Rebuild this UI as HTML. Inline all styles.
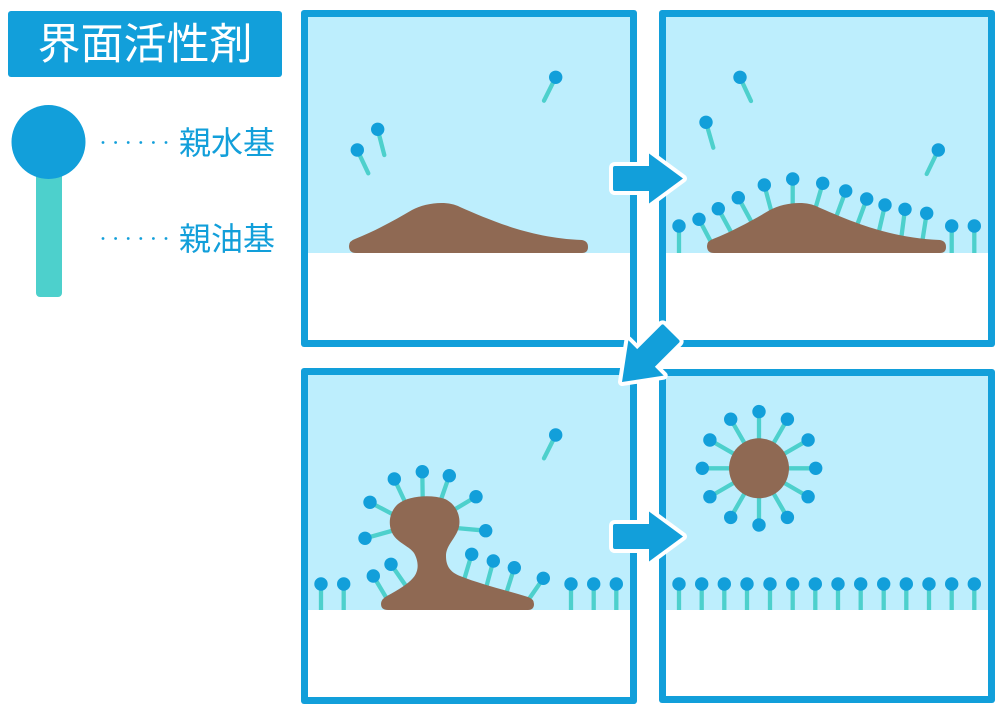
<!DOCTYPE html>
<html>
<head>
<meta charset="utf-8">
<style>
html,body{margin:0;padding:0;background:#fff;}
body{width:1000px;height:708px;overflow:hidden;}
svg{display:block;}
.t{stroke:#4dd0cc;stroke-width:4.3;stroke-linecap:round;fill:none;}
.s{stroke:#4dd0cc;stroke-width:4.3;stroke-linecap:butt;fill:none;}
.h{fill:#129fda;}
.b{fill:#8f6953;}
.arr{fill:#129fda;stroke:#fff;stroke-width:8;stroke-linejoin:round;paint-order:stroke;}
</style>
</head>
<body>
<svg width="1000" height="708" viewBox="0 0 1000 708" xmlns="http://www.w3.org/2000/svg">
  <!-- Legend -->
  <rect x="8" y="11" width="274" height="66" rx="3" fill="#129fda"/>
  <text x="145" y="59" text-anchor="middle" font-family="'Liberation Sans','Noto Sans CJK JP',sans-serif" font-size="43" fill="#fff">界面活性剤</text>
  <rect x="36" y="150" width="26" height="147" rx="4" fill="#4dd0cc"/>
  <circle cx="48.5" cy="142" r="37" fill="#129fda"/>
  <g fill="#129fda">
    <circle cx="103" cy="142.5" r="1.4"/><circle cx="115.6" cy="142.5" r="1.4"/><circle cx="128.2" cy="142.5" r="1.4"/>
    <circle cx="140.8" cy="142.5" r="1.4"/><circle cx="153.4" cy="142.5" r="1.4"/><circle cx="166" cy="142.5" r="1.4"/>
    <circle cx="103" cy="238.5" r="1.4"/><circle cx="115.6" cy="238.5" r="1.4"/><circle cx="128.2" cy="238.5" r="1.4"/>
    <circle cx="140.8" cy="238.5" r="1.4"/><circle cx="153.4" cy="238.5" r="1.4"/><circle cx="166" cy="238.5" r="1.4"/>
  </g>
  <text x="179" y="154" font-family="'Liberation Sans','Noto Sans CJK JP',sans-serif" font-size="32" fill="#129fda">親水基</text>
  <text x="179" y="250" font-family="'Liberation Sans','Noto Sans CJK JP',sans-serif" font-size="32" fill="#129fda">親油基</text>

  <!-- Panels -->
  <rect x="301" y="10" width="336" height="337" rx="3" fill="#129fda"/>
  <rect x="308" y="17" width="322" height="236" fill="#bdeefd"/>
  <rect x="308" y="253" width="322" height="87" fill="#fff"/>

  <rect x="659" y="10" width="336" height="337" rx="3" fill="#129fda"/>
  <rect x="666" y="17" width="322" height="236" fill="#bdeefd"/>
  <rect x="666" y="253" width="322" height="87" fill="#fff"/>

  <rect x="301" y="368" width="336" height="336" rx="3" fill="#129fda"/>
  <rect x="308" y="375" width="322" height="235" fill="#bdeefd"/>
  <rect x="308" y="610" width="322" height="87" fill="#fff"/>

  <rect x="659" y="369" width="336" height="334" rx="3" fill="#129fda"/>
  <rect x="666" y="376" width="322" height="234" fill="#bdeefd"/>
  <rect x="666" y="610" width="322" height="86" fill="#fff"/>

  <!-- Panel 1 -->
  <line class="t" x1="555.7" y1="77.3" x2="544" y2="100.7"/><circle class="h" cx="555.7" cy="77.3" r="6.7"/>
  <line class="t" x1="377.7" y1="129.3" x2="384.3" y2="155"/><circle class="h" cx="377.7" cy="129.3" r="6.7"/>
  <line class="t" x1="357.3" y1="150" x2="368.3" y2="173.3"/><circle class="h" cx="357.3" cy="150" r="6.7"/>
  <path class="b" d="M 356 253 Q 349 253 349 246 Q 349 241 355 239 C 375 231 395 220 412 210 C 425 203 447 200 460 207 C 490 220 530 238 582 240 Q 588 241 588 247 Q 588 253 582 253 Z"/>

  <!-- Panel 2 -->
  <line class="t" x1="740" y1="77.3" x2="751" y2="101"/><circle class="h" cx="740" cy="77.3" r="6.7"/>
  <line class="t" x1="706" y1="122.3" x2="713.3" y2="147.7"/><circle class="h" cx="706" cy="122.3" r="6.7"/>
  <line class="t" x1="938.3" y1="150" x2="926.7" y2="174"/><circle class="h" cx="938.3" cy="150" r="6.7"/>
  <g>
    <line class="s" x1="679" y1="226" x2="679" y2="253"/>
    <line class="t" x1="699" y1="219.3" x2="711" y2="242"/>
    <line class="t" x1="718.3" y1="208.7" x2="731" y2="232"/>
    <line class="t" x1="738.3" y1="197.7" x2="751" y2="221"/>
    <line class="t" x1="764.3" y1="185" x2="771" y2="210"/>
    <line class="t" x1="792.7" y1="179" x2="792.7" y2="205"/>
    <line class="t" x1="822.7" y1="183.3" x2="815.5" y2="208"/>
    <line class="t" x1="845.7" y1="191" x2="836.5" y2="216"/>
    <line class="t" x1="866.7" y1="199" x2="857.5" y2="224"/>
    <line class="t" x1="885" y1="205" x2="879" y2="231"/>
    <line class="t" x1="905" y1="209.3" x2="901.5" y2="236"/>
    <line class="t" x1="926.7" y1="213.3" x2="922.5" y2="240"/>
    <line class="s" x1="951.7" y1="226" x2="951.7" y2="253"/>
    <line class="s" x1="974.3" y1="226" x2="974.3" y2="253"/>
  </g>
  <path class="b" d="M 714 253 Q 707 253 707 246 Q 707 241 713 239 C 733 231 753 220 770 210 C 783 203 805 200 818 207 C 848 220 888 238 940 240 Q 946 241 946 247 Q 946 253 940 253 Z"/>
  <g>
    <circle class="h" cx="679" cy="226" r="6.7"/>
    <circle class="h" cx="699" cy="219.3" r="6.7"/>
    <circle class="h" cx="718.3" cy="208.7" r="6.7"/>
    <circle class="h" cx="738.3" cy="197.7" r="6.7"/>
    <circle class="h" cx="764.3" cy="185" r="6.7"/>
    <circle class="h" cx="792.7" cy="179" r="6.7"/>
    <circle class="h" cx="822.7" cy="183.3" r="6.7"/>
    <circle class="h" cx="845.7" cy="191" r="6.7"/>
    <circle class="h" cx="866.7" cy="199" r="6.7"/>
    <circle class="h" cx="885" cy="205" r="6.7"/>
    <circle class="h" cx="905" cy="209.3" r="6.7"/>
    <circle class="h" cx="926.7" cy="213.3" r="6.7"/>
    <circle class="h" cx="951.7" cy="226" r="6.7"/>
    <circle class="h" cx="974.3" cy="226" r="6.7"/>
  </g>

  <!-- Panel 3 -->
  <line class="t" x1="555.7" y1="435" x2="544" y2="458.3"/><circle class="h" cx="555.7" cy="435" r="6.7"/>
  <g>
    <line class="t" x1="365" y1="538.3" x2="395" y2="530"/>
    <line class="t" x1="370" y1="502.3" x2="396" y2="516"/>
    <line class="t" x1="394.3" y1="479" x2="406" y2="504"/>
    <line class="t" x1="422.3" y1="471.7" x2="422.7" y2="499"/>
    <line class="t" x1="449.3" y1="475.7" x2="440.5" y2="501"/>
    <line class="t" x1="476" y1="496.7" x2="452" y2="511"/>
    <line class="t" x1="485.7" y1="530.7" x2="456" y2="528"/>
    <line class="t" x1="373.3" y1="576" x2="387" y2="599"/>
    <line class="t" x1="391" y1="564.3" x2="406" y2="586"/>
    <line class="t" x1="471.7" y1="554.3" x2="464" y2="580"/>
    <line class="t" x1="493.3" y1="561" x2="486" y2="588"/>
    <line class="t" x1="514.3" y1="567.7" x2="506" y2="594"/>
    <line class="t" x1="543.3" y1="578.3" x2="529" y2="599"/>
    <line class="s" x1="321" y1="584" x2="321" y2="610"/>
    <line class="s" x1="343.7" y1="584" x2="343.7" y2="610"/>
    <line class="s" x1="571" y1="584" x2="571" y2="610"/>
    <line class="s" x1="593.7" y1="584" x2="593.7" y2="610"/>
    <line class="s" x1="616.3" y1="584" x2="616.3" y2="610"/>
  </g>
  <path class="b" d="M 388 610 Q 381 610 381 604 Q 381 599 387 596 C 398 590 408 584 413 578 C 420 570 418 560 414 553 C 410 547 399 543 394 536 C 387 526 389 512 398 504 C 408 496 430 494 445 499 C 458 505 462 520 458 530 C 454 540 446 546 446 556 C 446 566 450 572 460 576 C 480 584 505 590 528 597 Q 534 599 534 604 Q 534 610 528 610 Z"/>
  <g>
    <circle class="h" cx="365" cy="538.3" r="6.7"/>
    <circle class="h" cx="370" cy="502.3" r="6.7"/>
    <circle class="h" cx="394.3" cy="479" r="6.7"/>
    <circle class="h" cx="422.3" cy="471.7" r="6.7"/>
    <circle class="h" cx="449.3" cy="475.7" r="6.7"/>
    <circle class="h" cx="476" cy="496.7" r="6.7"/>
    <circle class="h" cx="485.7" cy="530.7" r="6.7"/>
    <circle class="h" cx="373.3" cy="576" r="6.7"/>
    <circle class="h" cx="391" cy="564.3" r="6.7"/>
    <circle class="h" cx="471.7" cy="554.3" r="6.7"/>
    <circle class="h" cx="493.3" cy="561" r="6.7"/>
    <circle class="h" cx="514.3" cy="567.7" r="6.7"/>
    <circle class="h" cx="543.3" cy="578.3" r="6.7"/>
    <circle class="h" cx="321" cy="584" r="6.7"/>
    <circle class="h" cx="343.7" cy="584" r="6.7"/>
    <circle class="h" cx="571" cy="584" r="6.7"/>
    <circle class="h" cx="593.7" cy="584" r="6.7"/>
    <circle class="h" cx="616.3" cy="584" r="6.7"/>
  </g>

  <!-- Panel 4: micelle -->
  <g>
    <line class="t" x1="759" y1="468.3" x2="815.7" y2="468.3"/>
    <line class="t" x1="759" y1="468.3" x2="808.1" y2="496.7"/>
    <line class="t" x1="759" y1="468.3" x2="787.4" y2="517.4"/>
    <line class="t" x1="759" y1="468.3" x2="759" y2="525"/>
    <line class="t" x1="759" y1="468.3" x2="730.7" y2="517.4"/>
    <line class="t" x1="759" y1="468.3" x2="709.9" y2="496.7"/>
    <line class="t" x1="759" y1="468.3" x2="702.3" y2="468.3"/>
    <line class="t" x1="759" y1="468.3" x2="709.9" y2="440"/>
    <line class="t" x1="759" y1="468.3" x2="730.7" y2="419.2"/>
    <line class="t" x1="759" y1="468.3" x2="759" y2="411.6"/>
    <line class="t" x1="759" y1="468.3" x2="787.4" y2="419.2"/>
    <line class="t" x1="759" y1="468.3" x2="808.1" y2="440"/>
  </g>
  <circle class="b" cx="759" cy="468.3" r="30"/>
  <g>
    <circle class="h" cx="815.7" cy="468.3" r="6.7"/>
    <circle class="h" cx="808.1" cy="496.7" r="6.7"/>
    <circle class="h" cx="787.4" cy="517.4" r="6.7"/>
    <circle class="h" cx="759" cy="525" r="6.7"/>
    <circle class="h" cx="730.7" cy="517.4" r="6.7"/>
    <circle class="h" cx="709.9" cy="496.7" r="6.7"/>
    <circle class="h" cx="702.3" cy="468.3" r="6.7"/>
    <circle class="h" cx="709.9" cy="440" r="6.7"/>
    <circle class="h" cx="730.7" cy="419.2" r="6.7"/>
    <circle class="h" cx="759" cy="411.6" r="6.7"/>
    <circle class="h" cx="787.4" cy="419.2" r="6.7"/>
    <circle class="h" cx="808.1" cy="440" r="6.7"/>
  </g>
  <g>
    <line class="s" x1="679" y1="584" x2="679" y2="610"/>
    <line class="s" x1="701.7" y1="584" x2="701.7" y2="610"/>
    <line class="s" x1="724.3" y1="584" x2="724.3" y2="610"/>
    <line class="s" x1="747" y1="584" x2="747" y2="610"/>
    <line class="s" x1="770" y1="584" x2="770" y2="610"/>
    <line class="s" x1="792.7" y1="584" x2="792.7" y2="610"/>
    <line class="s" x1="815.3" y1="584" x2="815.3" y2="610"/>
    <line class="s" x1="838" y1="584" x2="838" y2="610"/>
    <line class="s" x1="860.7" y1="584" x2="860.7" y2="610"/>
    <line class="s" x1="883.7" y1="584" x2="883.7" y2="610"/>
    <line class="s" x1="906.3" y1="584" x2="906.3" y2="610"/>
    <line class="s" x1="929" y1="584" x2="929" y2="610"/>
    <line class="s" x1="951.7" y1="584" x2="951.7" y2="610"/>
    <line class="s" x1="974.3" y1="584" x2="974.3" y2="610"/>
    <circle class="h" cx="679" cy="584" r="6.7"/>
    <circle class="h" cx="701.7" cy="584" r="6.7"/>
    <circle class="h" cx="724.3" cy="584" r="6.7"/>
    <circle class="h" cx="747" cy="584" r="6.7"/>
    <circle class="h" cx="770" cy="584" r="6.7"/>
    <circle class="h" cx="792.7" cy="584" r="6.7"/>
    <circle class="h" cx="815.3" cy="584" r="6.7"/>
    <circle class="h" cx="838" cy="584" r="6.7"/>
    <circle class="h" cx="860.7" cy="584" r="6.7"/>
    <circle class="h" cx="883.7" cy="584" r="6.7"/>
    <circle class="h" cx="906.3" cy="584" r="6.7"/>
    <circle class="h" cx="929" cy="584" r="6.7"/>
    <circle class="h" cx="951.7" cy="584" r="6.7"/>
    <circle class="h" cx="974.3" cy="584" r="6.7"/>
  </g>

  <!-- Arrows -->
  <defs>
    <path id="ar" d="M 0 0 L -34 -25 L -34 -12.5 L -68 -12.5 Q -70 -12.5 -70 -10.5 L -70 10.5 Q -70 12.5 -68 12.5 L -34 12.5 L -34 25 Z"/>
  </defs>
  <g transform="translate(683,178.5)"><path class="arr" d="M 0 0 L -34 -25 L -34 -12.5 L -68 -12.5 Q -70 -12.5 -70 -10.5 L -70 10.5 Q -70 12.5 -68 12.5 L -34 12.5 L -34 25 Z"/></g>
  <g transform="translate(683,536.5)"><path class="arr" d="M 0 0 L -34 -25 L -34 -12.5 L -68 -12.5 Q -70 -12.5 -70 -10.5 L -70 10.5 Q -70 12.5 -68 12.5 L -34 12.5 L -34 25 Z"/></g>
  <g transform="translate(622,382) rotate(135)"><path class="arr" d="M 0 0 L -34 -25 L -34 -12.5 L -68 -12.5 Q -70 -12.5 -70 -10.5 L -70 10.5 Q -70 12.5 -68 12.5 L -34 12.5 L -34 25 Z"/></g>
</svg>
</body>
</html>
